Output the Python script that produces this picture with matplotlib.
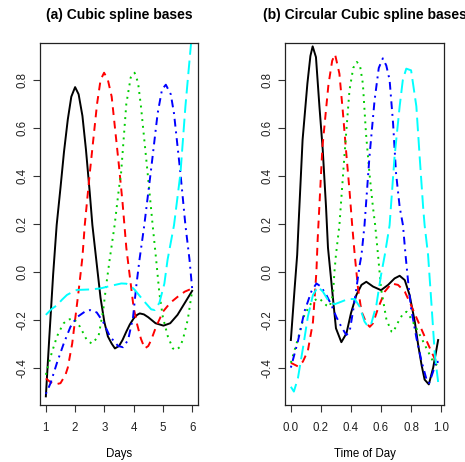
import matplotlib
matplotlib.use("Agg")
import matplotlib.pyplot as plt
from matplotlib.ticker import FormatStrFormatter

plt.rcParams['font.family'] = ['Liberation Sans', 'DejaVu Sans']
plt.rcParams['axes.unicode_minus'] = False

# (a) cubic spline bases, x in days
a_black_x = [1, 1.12, 1.25, 1.37, 1.5, 1.62, 1.75, 1.87, 2, 2.12, 2.25, 2.37, 2.5, 2.59, 2.75, 2.87, 3, 3.12, 3.25, 3.36, 3.5, 3.62, 3.75, 3.87, 4, 4.12, 4.21, 4.35, 4.5, 4.75, 5.02, 5.25, 5.5, 5.75, 6]
a_black_y = [-0.52, -0.27, -0.01, 0.195, 0.35, 0.50, 0.635, 0.73, 0.77, 0.74, 0.65, 0.51, 0.33, 0.195, 0.02, -0.11, -0.21, -0.27, -0.30, -0.32, -0.31, -0.285, -0.25, -0.22, -0.195, -0.18, -0.174, -0.178, -0.19, -0.215, -0.225, -0.215, -0.18, -0.13, -0.08]

a_red_x = [1, 1.15, 1.33, 1.5, 1.67, 1.75, 1.9, 2, 2.12, 2.25, 2.33, 2.5, 2.75, 2.87, 2.99, 3.12, 3.25, 3.5, 3.62, 3.75, 3.87, 4, 4.12, 4.25, 4.38, 4.5, 4.6, 4.75, 5, 5.25, 5.5, 5.75, 6]
a_red_y = [-0.445, -0.46, -0.47, -0.465, -0.43, -0.40, -0.30, -0.20, -0.08, 0.06, 0.195, 0.41, 0.70, 0.80, 0.83, 0.80, 0.73, 0.44, 0.29, 0.10, -0.02, -0.15, -0.22, -0.28, -0.32, -0.31, -0.285, -0.235, -0.167, -0.13, -0.105, -0.083, -0.07]

a_green_x = [1, 1.16, 1.25, 1.38, 1.5, 1.61, 1.75, 1.95, 2.17, 2.4, 2.57, 2.8, 2.96, 3.07, 3.18, 3.35, 3.5, 3.57, 3.75, 3.9, 4.03, 4.15, 4.25, 4.48, 4.65, 4.77, 4.88, 5, 5.17, 5.34, 5.45, 5.57, 5.68, 5.85, 6]
a_green_y = [-0.43, -0.355, -0.32, -0.27, -0.24, -0.215, -0.20, -0.195, -0.23, -0.285, -0.30, -0.27, -0.16, -0.05, 0.05, 0.194, 0.35, 0.41, 0.70, 0.81, 0.83, 0.79, 0.69, 0.41, 0.194, 0.05, -0.09, -0.19, -0.27, -0.32, -0.327, -0.315, -0.285, -0.20, -0.08]

a_blue_x = [1, 1.16, 1.38, 1.61, 1.84, 2.06, 2.34, 2.51, 2.74, 2.96, 3.19, 3.47, 3.64, 3.81, 3.98, 4.09, 4.2, 4.36, 4.59, 4.82, 4.97, 5.1, 5.27, 5.38, 5.6, 5.77, 5.91, 6]
a_blue_y = [-0.51, -0.465, -0.38, -0.30, -0.23, -0.19, -0.166, -0.16, -0.17, -0.21, -0.27, -0.31, -0.315, -0.285, -0.19, -0.06, 0.05, 0.19, 0.42, 0.66, 0.76, 0.78, 0.74, 0.66, 0.41, 0.194, 0.05, -0.07]

a_cyan_x = [1, 1.2, 1.38, 1.55, 1.72, 1.9, 2.06, 2.3, 2.51, 2.85, 3.19, 3.4, 3.58, 3.75, 3.9, 4.04, 4.32, 4.6, 4.72, 4.88, 5.05, 5.16, 5.38, 5.6, 5.77, 5.96, 6.02]
a_cyan_y = [-0.18, -0.155, -0.14, -0.117, -0.097, -0.085, -0.076, -0.075, -0.074, -0.07, -0.06, -0.054, -0.049, -0.05, -0.06, -0.076, -0.118, -0.157, -0.16, -0.13, -0.05, 0.05, 0.194, 0.41, 0.69, 0.95, 1.03]

# (b) circular cubic spline bases, x in time of day
b_black_x = [0, 0.025, 0.042, 0.051, 0.078, 0.11, 0.13, 0.145, 0.167, 0.19, 0.212, 0.234, 0.247, 0.28, 0.30, 0.336, 0.37, 0.40, 0.436, 0.47, 0.502, 0.547, 0.60, 0.647, 0.69, 0.724, 0.758, 0.79, 0.825, 0.847, 0.87, 0.89, 0.918, 0.947, 0.97, 0.98]
b_black_y = [-0.285, -0.07, 0.07, 0.194, 0.55, 0.785, 0.90, 0.94, 0.895, 0.69, 0.51, 0.27, 0.10, -0.11, -0.236, -0.294, -0.257, -0.173, -0.097, -0.055, -0.042, -0.062, -0.077, -0.055, -0.028, -0.017, -0.035, -0.097, -0.21, -0.305, -0.39, -0.45, -0.47, -0.40, -0.32, -0.285]

b_red_x = [0, 0.047, 0.08, 0.113, 0.147, 0.17, 0.178, 0.2, 0.21, 0.25, 0.275, 0.294, 0.323, 0.345, 0.367, 0.39, 0.408, 0.425, 0.447, 0.47, 0.503, 0.525, 0.547, 0.58, 0.625, 0.67, 0.713, 0.758, 0.80, 0.847, 0.89, 0.935, 0.97, 0.98]
b_red_y = [-0.38, -0.395, -0.375, -0.33, -0.21, 0.0, 0.13, 0.40, 0.52, 0.78, 0.88, 0.907, 0.826, 0.674, 0.507, 0.34, 0.194, 0.07, -0.07, -0.166, -0.215, -0.23, -0.215, -0.153, -0.083, -0.049, -0.055, -0.083, -0.14, -0.208, -0.27, -0.333, -0.38, -0.39]

b_green_x = [0, 0.047, 0.09, 0.136, 0.18, 0.20, 0.236, 0.258, 0.28, 0.29, 0.30, 0.323, 0.356, 0.39, 0.415, 0.439, 0.46, 0.479, 0.50, 0.523, 0.546, 0.561, 0.58, 0.60, 0.636, 0.67, 0.68, 0.714, 0.747, 0.77, 0.80, 0.835, 0.87, 0.913, 0.947, 0.98]
b_green_y = [-0.38, -0.28, -0.18, -0.13, -0.11, -0.118, -0.14, -0.146, -0.097, 0.0, 0.07, 0.194, 0.48, 0.757, 0.85, 0.875, 0.86, 0.785, 0.576, 0.41, 0.27, 0.194, 0.07, -0.07, -0.20, -0.25, -0.253, -0.21, -0.174, -0.167, -0.195, -0.236, -0.278, -0.333, -0.375, -0.395]

b_blue_x = [0, 0.047, 0.09, 0.136, 0.17, 0.20, 0.236, 0.27, 0.302, 0.336, 0.369, 0.391, 0.413, 0.436, 0.458, 0.47, 0.49, 0.523, 0.557, 0.585, 0.612, 0.635, 0.657, 0.68, 0.70, 0.724, 0.746, 0.763, 0.78, 0.80, 0.836, 0.87, 0.903, 0.92, 0.947, 0.97, 0.98]
b_blue_y = [-0.40, -0.29, -0.167, -0.083, -0.049, -0.062, -0.097, -0.139, -0.188, -0.23, -0.264, -0.25, -0.167, -0.07, 0.028, 0.07, 0.194, 0.48, 0.715, 0.85, 0.89, 0.86, 0.80, 0.62, 0.41, 0.27, 0.194, 0.07, -0.04, -0.153, -0.278, -0.375, -0.45, -0.465, -0.416, -0.368, -0.38]

b_cyan_x = [0, 0.02, 0.047, 0.08, 0.113, 0.147, 0.18, 0.213, 0.247, 0.29, 0.336, 0.38, 0.425, 0.458, 0.49, 0.514, 0.536, 0.569, 0.60, 0.625, 0.657, 0.69, 0.724, 0.745, 0.768, 0.80, 0.835, 0.857, 0.88, 0.89, 0.913, 0.936, 0.958, 0.98]
b_cyan_y = [-0.48, -0.50, -0.444, -0.32, -0.188, -0.097, -0.063, -0.083, -0.118, -0.136, -0.125, -0.114, -0.114, -0.146, -0.208, -0.229, -0.215, -0.139, -0.014, 0.07, 0.194, 0.48, 0.69, 0.80, 0.847, 0.84, 0.69, 0.48, 0.27, 0.194, 0.07, -0.139, -0.347, -0.46]

colors = ['black', '#FF0000', '#00CD00', '#0000FF', '#00FFFF']
styles = ['-', (0, (4, 3)), (0, (1, 2.5)), (0, (1, 2.5, 4, 2.5)), (0, (7, 3))]

fig = plt.figure(figsize=(4.65, 4.62), dpi=100)
ax1 = fig.add_axes([40/465, 1 - 405/462, 158/465, 362/462])
ax2 = fig.add_axes([285/465, 1 - 405/462, 159/465, 362/462])

a_series = [(a_black_x, a_black_y), (a_red_x, a_red_y), (a_green_x, a_green_y),
            (a_blue_x, a_blue_y), (a_cyan_x, a_cyan_y)]
b_series = [(b_black_x, b_black_y), (b_red_x, b_red_y), (b_green_x, b_green_y),
            (b_blue_x, b_blue_y), (b_cyan_x, b_cyan_y)]

for (x, y), c, ls in zip(a_series, colors, styles):
    ax1.plot(x, y, color=c, linestyle=ls, lw=1.4)
for (x, y), c, ls in zip(b_series, colors, styles):
    ax2.plot(x, y, color=c, linestyle=ls, lw=1.4)

ax1.set_xlim(0.8, 6.2)
ax1.set_xticks([1, 2, 3, 4, 5, 6])
ax2.set_xlim(-0.039, 1.019)
ax2.set_xticks([0.0, 0.2, 0.4, 0.6, 0.8, 1.0])
ax2.xaxis.set_major_formatter(FormatStrFormatter('%.1f'))

for ax in (ax1, ax2):
    ax.set_ylim(-0.556, 0.954)
    ax.set_yticks([-0.4, -0.2, 0.0, 0.2, 0.4, 0.6, 0.8])
    ax.yaxis.set_major_formatter(FormatStrFormatter('%.1f'))
    ax.tick_params(direction='out', length=5, width=0.8, labelsize=8.3,
                   color='#333333', labelcolor='#222222')
    ax.tick_params(axis='x', pad=7)
    ax.tick_params(axis='y', pad=3.5)
    for lab in ax.get_yticklabels():
        lab.set_rotation(90)
        lab.set_va('center')
    for sp in ax.spines.values():
        sp.set_linewidth(0.9)
        sp.set_color('#222222')

ax1.set_title('(a) Cubic spline bases', fontsize=10, fontweight='bold', pad=17)
ax2.set_title('(b) Circular Cubic spline bases', fontsize=10, fontweight='bold', pad=17)
ax1.set_xlabel('Days', fontsize=8.3)
ax2.set_xlabel('Time of Day', fontsize=8.3)
ax1.xaxis.set_label_coords(0.5, -0.12)
ax2.xaxis.set_label_coords(0.5, -0.12)

fig.savefig('out.png', dpi=100)
